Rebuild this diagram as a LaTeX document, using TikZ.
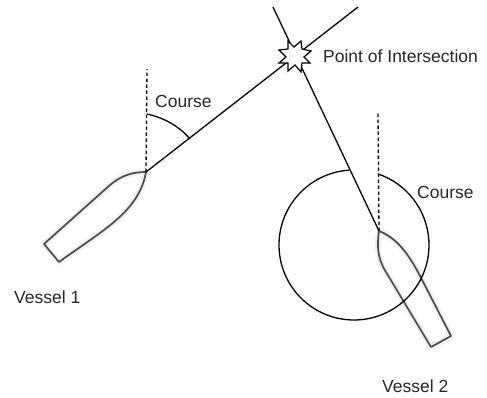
\documentclass[tikz,border=0pt]{standalone}
\usepackage{fontspec}
\setmainfont{Liberation Sans}
\usetikzlibrary{calc}
\tikzset{
  lbl/.style={font=\fontsize{17.5}{20}\selectfont,text=black!85,inner sep=0pt,anchor=west},
  course/.style={line width=1.3pt,black},
  north/.style={line width=1.3pt,black,dash pattern=on 3.5pt off 2.5pt},
  hull/.style={line width=1.7pt,black!70,line join=round},
  halo/.style={line width=6pt,black!6,line join=round}
}
\begin{document}
\begin{tikzpicture}[x=1pt,y=-1pt]
\useasboundingbox (0,0) rectangle (487,398);
\coordinate (bowA) at (146,172);
\coordinate (bowB) at (379,231);
\coordinate (endA) at (358,7);
\coordinate (endB) at (273,7);
\coordinate (northA) at (147,69);
\coordinate (northB) at (378,112);
\coordinate (cB) at (354,245);
% vessel 1
\def\hullA{(44,244) -- (59,262) .. controls (85,243) and (115,225) .. (130,206) .. controls (139,195) and (144,184) .. (146,172) .. controls (133,172) and (122,175) .. (110,185) -- cycle}
\draw[halo] \hullA;
\draw[hull] \hullA;
% vessel 2
\def\hullB{(431,347) -- (451,336) -- (418,272) .. controls (408,254) and (397,238) .. (379,231) .. controls (377,245) and (377,258) .. (386,272) -- cycle}
\draw[halo] \hullB;
\draw[hull] \hullB;
% courses
\draw[course] (bowA) -- (endA);
\draw[course] (bowB) -- (endB);
\draw[north] (bowA) -- (northA);
\draw[north] (bowB) -- (northB);
\draw[course] (147,114) .. controls (165,118) and (180,127) .. (190,139);
\draw[course] (cB) ++(-93.8:75) arc[start angle=-93.8,end angle=-431.3,radius=75];
% star
\draw[line width=1.2pt,fill=white,line join=miter]
 (288,41) -- (294,47) -- (301,41) -- (302,49) -- (311,51) -- (304,57) -- (310,63) -- (302,63) -- (301,72) -- (295,65) -- (288,71) -- (288,63) -- (279,63) -- (286,57) -- (279,50) -- (288,49) -- cycle;
% labels
\node[lbl] (t1) at (155,101) {Course};
\node[lbl] (t2) at (323,56) {Point of Intersection};
\node[lbl] (t3) at (417,192) {Course};
\node[lbl] (t4) at (14,297) {Vessel 1};
\node[lbl] (t5) at (382,386) {Vessel 2};
\end{tikzpicture}
\end{document}
